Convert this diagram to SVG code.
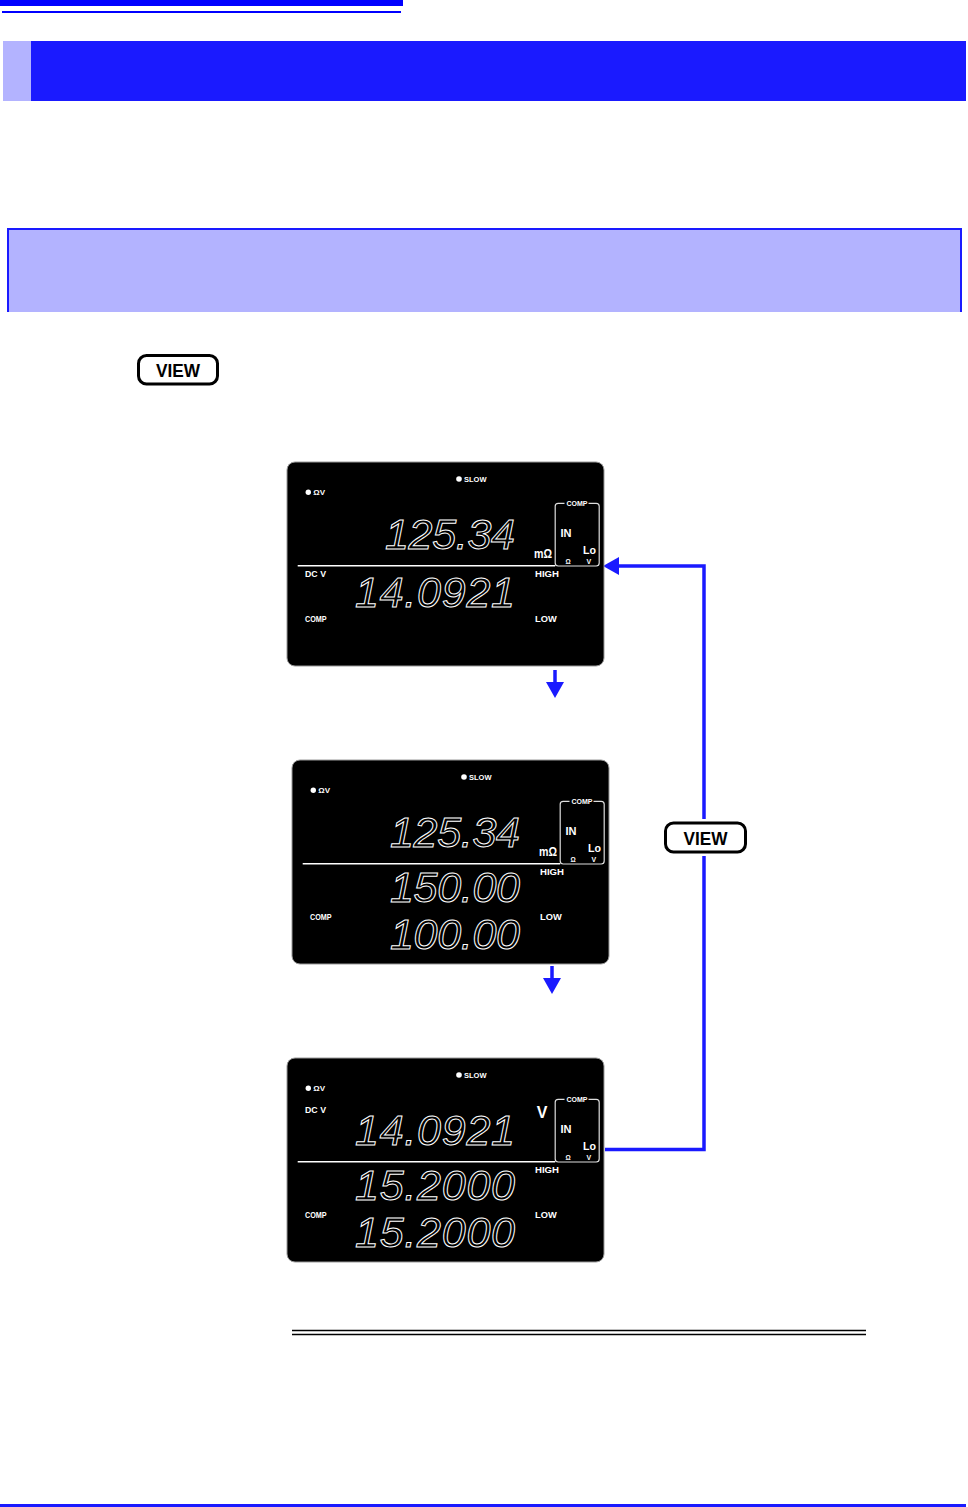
<svg xmlns="http://www.w3.org/2000/svg" width="968" height="1507" viewBox="0 0 968 1507">
<style>
.lbl{font-family:"Liberation Sans",Arial,sans-serif;font-weight:bold;fill:#fff}
.seg{font-family:"Liberation Sans",Arial,sans-serif;font-style:italic;font-size:43px;fill:#000;stroke:#fff;stroke-width:1}
.panel{fill:#000;stroke:#999;stroke-width:1}
.cbox{fill:none;stroke:#ddd;stroke-width:1.2}
.div{stroke:#fff;stroke-width:1.5}
.btn{fill:#fff;stroke:#000;stroke-width:3}
.btnt{font-family:"Liberation Sans",Arial,sans-serif;font-weight:bold;font-size:19px;fill:#000}
.conn{fill:none;stroke:#1a1aff;stroke-width:3.5}
</style>
<defs>
<marker id="ah" markerUnits="userSpaceOnUse" markerWidth="16" markerHeight="18" viewBox="0 0 16 18" refX="0" refY="9" orient="auto">
<path d="M0,0 L16,9 L0,18 z" fill="#1a1aff"/>
</marker>
<g id="compbox">
<rect class="cbox" x="268.2" y="41.3" width="44" height="62.7" rx="3"/>
<rect x="277.5" y="37" width="24" height="9" fill="#000"/>
<text class="lbl" x="279.5" y="43.9" font-size="8" textLength="21" lengthAdjust="spacingAndGlyphs">COMP</text>
<text class="lbl" x="273.5" y="74.7" font-size="11">IN</text>
<text class="lbl" x="296" y="92.3" font-size="11" textLength="13" lengthAdjust="spacingAndGlyphs">Lo</text>
<text class="lbl" x="278.5" y="102" font-size="6.5">Ω</text>
<text class="lbl" x="299.5" y="102" font-size="7">V</text>
</g>
<g id="common">
<rect class="panel" x="0" y="0" width="317" height="204" rx="8"/>
<circle cx="21.3" cy="30.3" r="2.7" fill="#fff"/>
<text class="lbl" x="26.3" y="33" font-size="8">ΩV</text>
<circle cx="172" cy="17" r="2.8" fill="#fff"/>
<text class="lbl" x="177" y="19.5" font-size="7.5">SLOW</text>
<use href="#compbox"/>
<line class="div" x1="10.7" y1="103.7" x2="268.2" y2="103.7"/>
<text class="lbl" x="248" y="114.7" font-size="9.3" textLength="24" lengthAdjust="spacingAndGlyphs">HIGH</text>
<text class="lbl" x="248" y="159.5" font-size="9.3" textLength="21.7" lengthAdjust="spacingAndGlyphs">LOW</text>
<text class="lbl" x="18" y="159.5" font-size="8.8" textLength="21.7" lengthAdjust="spacingAndGlyphs">COMP</text>
</g>
</defs>

<g id="page-header">
<rect x="0" y="0" width="403" height="6" fill="#0000ff"/>
<rect x="2" y="11" width="399" height="2" fill="#0000ff"/>
<rect x="3" y="41" width="28" height="60" fill="#b3b3ff"/>
<rect x="31" y="41" width="935" height="60" fill="#1a1aff"/>
</g>

<g id="note-box">
<rect x="8" y="229" width="953" height="83" fill="#b3b3ff"/>
<path d="M8,312 V229 H961 V312" fill="none" stroke="#1a1aff" stroke-width="2"/>
</g>

<g id="view-key">
<rect class="btn" x="138.5" y="355.5" width="79" height="28.5" rx="8"/>
<text class="btnt" x="178" y="377" text-anchor="middle" textLength="44" lengthAdjust="spacingAndGlyphs">VIEW</text>
</g>

<g id="connectors">
<line class="conn" x1="555" y1="670" x2="555" y2="682" marker-end="url(#ah)"/>
<line class="conn" x1="552" y1="966" x2="552" y2="978" marker-end="url(#ah)"/>
<path class="conn" d="M605,1149.5 H704 V856"/>
<path class="conn" d="M704,819 V566 H619" marker-end="url(#ah)"/>
</g>

<g id="display-1" transform="translate(287,462)">
<use href="#common"/>
<text class="lbl" x="247" y="95.5" font-size="12" textLength="18" lengthAdjust="spacingAndGlyphs">mΩ</text>
<text class="lbl" x="18" y="114.7" font-size="9" textLength="21" lengthAdjust="spacingAndGlyphs">DC V</text>
<text class="seg" x="98" y="87" textLength="130">125.34</text>
<text class="seg" x="68" y="145" textLength="160">14.0921</text>
</g>

<g id="display-2" transform="translate(292,760)">
<use href="#common"/>
<text class="lbl" x="247" y="95.5" font-size="12" textLength="18" lengthAdjust="spacingAndGlyphs">mΩ</text>
<text class="seg" x="98" y="87" textLength="130">125.34</text>
<text class="seg" x="98" y="142" textLength="130">150.00</text>
<text class="seg" x="98" y="188.5" textLength="130">100.00</text>
</g>

<g id="display-3" transform="translate(287,1058)">
<use href="#common"/>
<text class="lbl" x="249.7" y="60.3" font-size="16">V</text>
<text class="lbl" x="18" y="55.3" font-size="9" textLength="21" lengthAdjust="spacingAndGlyphs">DC V</text>
<text class="seg" x="68" y="87" textLength="160">14.0921</text>
<text class="seg" x="68" y="142" textLength="160">15.2000</text>
<text class="seg" x="68" y="188.5" textLength="160">15.2000</text>
</g>

<g id="view-key-2">
<rect class="btn" x="665.5" y="823" width="80" height="29" rx="8"/>
<text class="btnt" x="705.5" y="845" text-anchor="middle" textLength="44" lengthAdjust="spacingAndGlyphs">VIEW</text>
</g>

<g id="footer">
<line x1="292" y1="1330.5" x2="866" y2="1330.5" stroke="#000" stroke-width="1.3"/>
<line x1="292" y1="1334.5" x2="866" y2="1334.5" stroke="#000" stroke-width="1.3"/>
<rect x="0" y="1504" width="966" height="3" fill="#1a1aff"/>
</g>
</svg>
